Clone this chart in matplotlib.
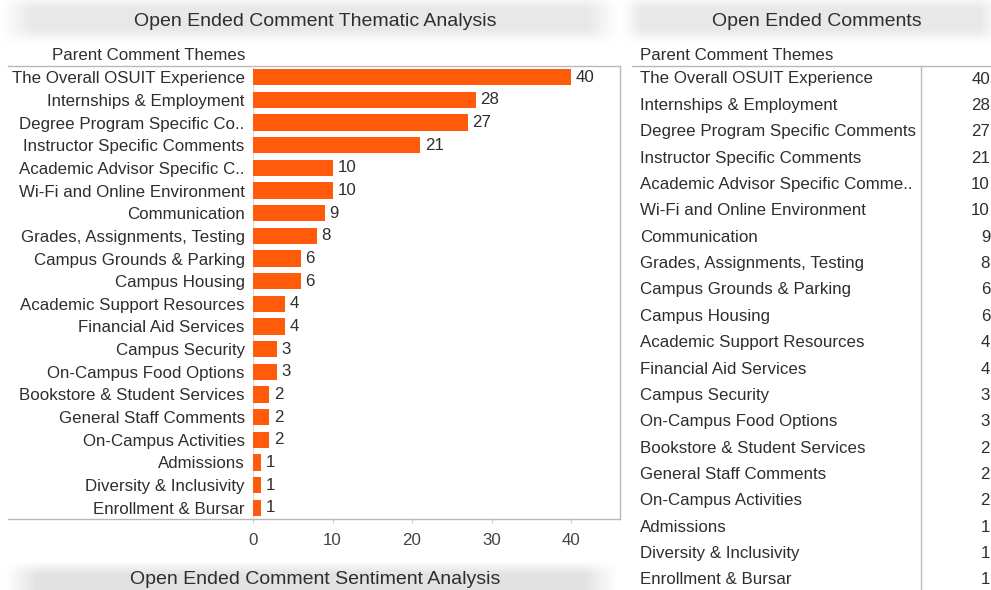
import matplotlib
matplotlib.use("Agg")
import matplotlib.pyplot as plt
import numpy as np

plt.rcParams['font.family'] = ['Liberation Sans', 'DejaVu Sans']

# ---------------- data ----------------
themes_short = ["The Overall OSUIT Experience", "Internships & Employment",
                "Degree Program Specific Co..", "Instructor Specific Comments",
                "Academic Advisor Specific C..", "Wi-Fi and Online Environment",
                "Communication", "Grades, Assignments, Testing",
                "Campus Grounds & Parking", "Campus Housing",
                "Academic Support Resources", "Financial Aid Services",
                "Campus Security", "On-Campus Food Options",
                "Bookstore & Student Services", "General Staff Comments",
                "On-Campus Activities", "Admissions", "Diversity & Inclusivity",
                "Enrollment & Bursar"]
themes_table = ["The Overall OSUIT Experience", "Internships & Employment",
                "Degree Program Specific Comments", "Instructor Specific Comments",
                "Academic Advisor Specific Comme..", "Wi-Fi and Online Environment",
                "Communication", "Grades, Assignments, Testing",
                "Campus Grounds & Parking", "Campus Housing",
                "Academic Support Resources", "Financial Aid Services",
                "Campus Security", "On-Campus Food Options",
                "Bookstore & Student Services", "General Staff Comments",
                "On-Campus Activities", "Admissions", "Diversity & Inclusivity",
                "Enrollment & Bursar"]
counts = [40, 28, 27, 21, 10, 10, 9, 8, 6, 6, 4, 4, 3, 3, 2, 2, 2, 1, 1, 1]
x_ticks = [0, 10, 20, 30, 40]

title_left = "Open Ended Comment Thematic Analysis"
title_right = "Open Ended Comments"
title_bottom = "Open Ended Comment Sentiment Analysis"
header = "Parent Comment Themes"

# ---------------- layout ----------------
W, H = 991, 590
fig = plt.figure(figsize=(W / 100, H / 100), dpi=100)
fig.patch.set_facecolor('white')

BAR = '#FF5B0A'
TXT = '#2E2E2E'
LINE = '#B8B8B8'
FS = 12.2
FT = 14

ov = fig.add_axes([0, 0, 1, 1])
ov.set_xlim(0, W)
ov.set_ylim(H, 0)
ov.axis('off')


def band(x0, x1, y0, y1, dark=0.90):
    nx, ny = 200, 60
    xs = np.linspace(0, 1, nx)
    ys = np.linspace(0, 1, ny)
    fx = np.clip(np.minimum(xs, 1 - xs) / 0.05, 0, 1)
    fy = np.clip(np.minimum(ys, 1 - ys) / 0.3, 0, 1)
    f = np.outer(fy, fx)
    v = 1 - (1 - dark) * f
    img = np.dstack([v, v, v])
    ov.imshow(img, extent=(x0, x1, y1, y0), aspect='auto', zorder=0,
              interpolation='bilinear')


band(0, 620, -6, 44, 0.91)
band(622, 1000, -6, 44, 0.91)
band(4, 618, 561, 604, 0.89)
ov.set_xlim(0, W)
ov.set_ylim(H, 0)

ov.text(315, 21, title_left, ha='center', va='center', fontsize=FT, color=TXT)
ov.text(817, 21, title_right, ha='center', va='center', fontsize=FT, color=TXT)
ov.text(315, 580, title_bottom, ha='center', va='center', fontsize=FT, color=TXT)

ov.text(245, 56, header, ha='right', va='center', fontsize=FS, color=TXT)
ov.text(640, 56, header, ha='left', va='center', fontsize=FS, color=TXT)

# left panel lines
ov.plot([8, 620], [66, 66], color=LINE, lw=1)
ov.plot([8, 620], [519, 519], color=LINE, lw=1)
ov.plot([620, 620], [66, 519], color=LINE, lw=1)
# right panel lines
ov.plot([632, 991], [66, 66], color=LINE, lw=1)
ov.plot([921, 921], [66, 590], color=LINE, lw=1)

# right table
row_top, row_bot = 79, 580
n = len(themes_table)
for i, (name, v) in enumerate(zip(themes_table, counts)):
    y = row_top + i * (row_bot - row_top) / (n - 1)
    ov.text(640, y, name, ha='left', va='center', fontsize=FS, color=TXT)
    ov.text(990, y, str(v), ha='right', va='center', fontsize=FS, color=TXT)

# ---------------- bar chart ----------------
x0_px, x1_px = 253, 620
y0_px, y1_px = 66, 519
ax = fig.add_axes([x0_px / W, 1 - y1_px / H, (x1_px - x0_px) / W, (y1_px - y0_px) / H])
ax.patch.set_alpha(0)
px_per_unit = (571 - 253) / 40
ax.set_xlim(0, (x1_px - x0_px) / px_per_unit)
ypos = np.arange(len(counts))
ax.set_ylim(len(counts) - 0.5, -0.5)
ax.barh(ypos, counts, height=0.72, color=BAR, zorder=2)
for yy, v in zip(ypos, counts):
    ax.text(v + 0.6, yy, str(v), ha='left', va='center', fontsize=FS, color=TXT)
ax.axvline(0, color='#D8D8D8', lw=0.8, zorder=1)
for s in ax.spines.values():
    s.set_visible(False)
ax.set_yticks(ypos)
ax.set_yticklabels(themes_short, fontsize=FS, color=TXT)
ax.tick_params(axis='y', length=0, pad=6)
ax.set_xticks(x_ticks)
ax.set_xticklabels([str(t) for t in x_ticks], fontsize=FS, color='#444444')
ax.tick_params(axis='x', length=3, color='#CCCCCC', pad=7, direction='out')

fig.savefig('out.png', dpi=100, facecolor='white')
